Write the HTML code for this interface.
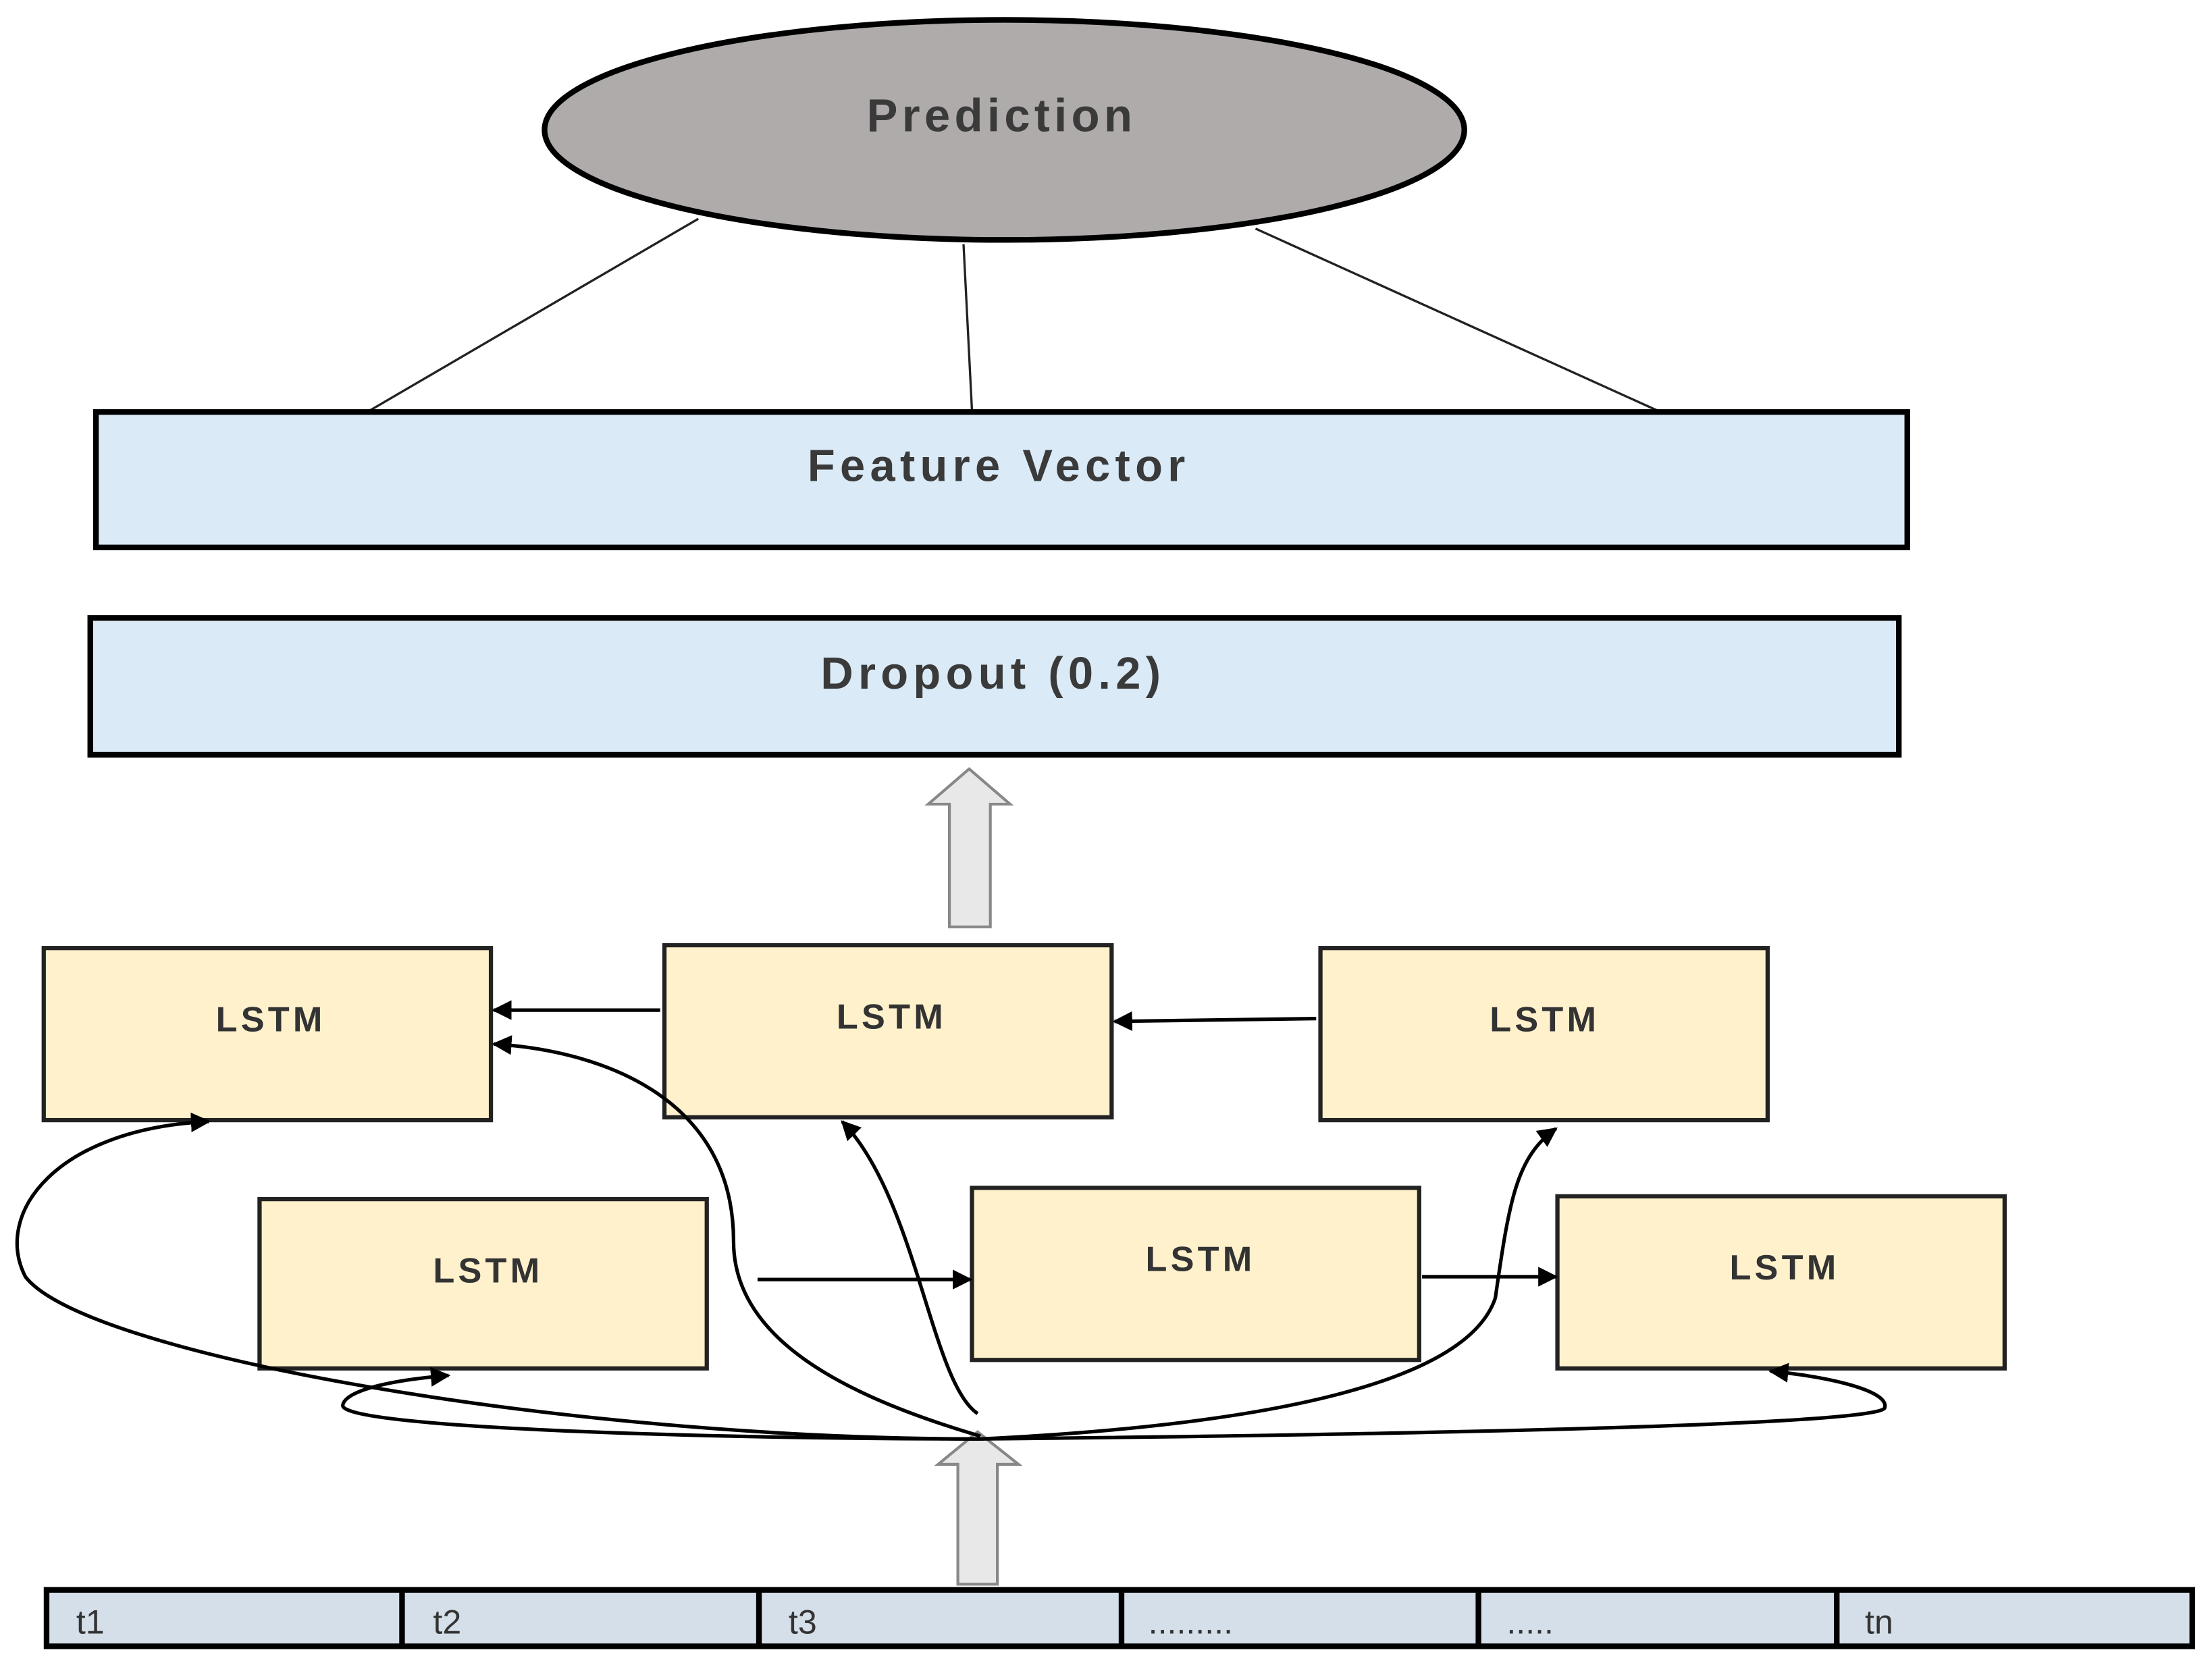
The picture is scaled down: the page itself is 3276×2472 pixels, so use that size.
<!DOCTYPE html>
<html><head><meta charset="utf-8"><style>html,body{margin:0;padding:0;background:#fff}svg{display:block}</style></head>
<body>
<svg width="3276" height="2472" viewBox="0 0 1568 1183" xmlns="http://www.w3.org/2000/svg" font-family="'Liberation Sans', sans-serif">
<defs>
<marker id="ah2" viewBox="0 0 10 10" refX="9" refY="5" markerWidth="14" markerHeight="14" orient="auto" markerUnits="userSpaceOnUse">
<path d="M0,0 L10,5 L0,10 z" fill="#000"/></marker>
</defs>
<rect width="1568" height="1183" fill="#fff"/>
<ellipse cx="712" cy="92" rx="326" ry="78" fill="#b0abab" stroke="#000" stroke-width="4"/>
<text x="710" y="93" font-size="33" font-weight="bold" fill="#3a3a3a" text-anchor="middle" letter-spacing="3">Prediction</text>
<g stroke="#222" stroke-width="1.6">
<line x1="495" y1="155" x2="262" y2="291"/>
<line x1="683" y1="173" x2="689" y2="291"/>
<line x1="890" y1="162" x2="1175" y2="291"/>
</g>
<rect x="68" y="292" width="1284" height="96" fill="#daeaf6" stroke="#000" stroke-width="4"/>
<text x="708" y="341" font-size="32" font-weight="bold" fill="#3a3a3a" text-anchor="middle" letter-spacing="3.5">Feature Vector</text>
<rect x="64" y="438" width="1282" height="97" fill="#daeaf6" stroke="#000" stroke-width="4"/>
<text x="704" y="488" font-size="32" font-weight="bold" fill="#3a3a3a" text-anchor="middle" letter-spacing="3.5">Dropout (0.2)</text>
<path d="M673,657 L673,570 L658,570 L687,545 L716,570 L702,570 L702,657 Z" fill="#e8e8e8" stroke="#888" stroke-width="2"/>
<path d="M679,1123 L679,1038 L665,1038 L693,1015 L722,1038 L707,1038 L707,1123 Z" fill="#e8e8e8" stroke="#888" stroke-width="2"/>
<g fill="#fff1cc" stroke="#222" stroke-width="3">
<rect x="31" y="672" width="317" height="122"/>
<rect x="471" y="670" width="317" height="122"/>
<rect x="936" y="672" width="317" height="122"/>
<rect x="184" y="850" width="317" height="120"/>
<rect x="689" y="842" width="317" height="122"/>
<rect x="1104" y="848" width="317" height="122"/>
</g>
<g font-size="25" font-weight="bold" fill="#333" text-anchor="middle" letter-spacing="2.5">
<text x="192" y="731">LSTM</text>
<text x="632" y="729">LSTM</text>
<text x="1095" y="731">LSTM</text>
<text x="346" y="909">LSTM</text>
<text x="851" y="901">LSTM</text>
<text x="1265" y="907">LSTM</text>
</g>
<g stroke="#000" stroke-width="2.5" fill="none" marker-end="url(#ah2)">
<line x1="468" y1="716" x2="350" y2="716"/>
<line x1="933" y1="722" x2="790" y2="724"/>
<line x1="537" y1="907" x2="688" y2="907"/>
<line x1="1008" y1="905" x2="1103" y2="905"/>
<path d="M695,1020 C400,1020 60,960 18,905 C-5,860 40,800 148,795"/>
<path d="M695,1018 C600,990 520,950 520,880 C520,780 430,745 350,740"/>
<path d="M693,1002 C660,980 650,850 597,795"/>
<path d="M695,1020 C900,1010 1040,980 1060,920 C1070,850 1075,820 1103,800"/>
<path d="M695,1020 C500,1020 240,1012 243,996 C245,985 280,978 318,975"/>
<path d="M695,1020 C900,1018 1330,1012 1336,998 C1340,985 1290,975 1255,972"/>
</g>
<rect x="33" y="1127" width="1521" height="40" fill="#d5dfe9" stroke="#000" stroke-width="4"/>
<g stroke="#000" stroke-width="4">
<line x1="285" y1="1127" x2="285" y2="1167"/>
<line x1="538" y1="1127" x2="538" y2="1167"/>
<line x1="795" y1="1127" x2="795" y2="1167"/>
<line x1="1048" y1="1127" x2="1048" y2="1167"/>
<line x1="1302" y1="1127" x2="1302" y2="1167"/>
</g>
<g font-size="24" fill="#333">
<text x="54" y="1158">t1</text>
<text x="307" y="1158">t2</text>
<text x="559" y="1158">t3</text>
<text x="814" y="1158">.........</text>
<text x="1068" y="1158">.....</text>
<text x="1322" y="1158">tn</text>
</g>
</svg>
</body></html>
